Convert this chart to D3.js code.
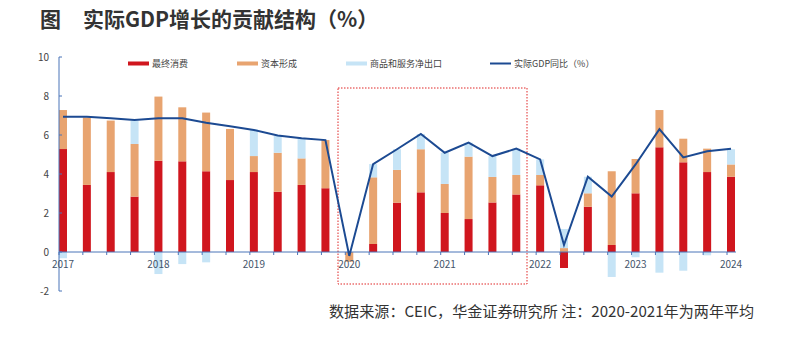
<html>
<head>
	<meta charset="utf-8">
	<title>实际GDP增长的贡献结构</title>
	<style>
		body {
			margin:0;
			padding:0;
			background:#fff;
			font-family:"Noto Sans CJK SC", "Noto Sans", sans-serif;
		}
		svg { display:block; }
	</style>
</head>
<body>
	<svg width="798" height="347"></svg>

	<script src="https://d3js.org/d3.v7.min.js"></script>
	<script>
		// quarterly, 2017Q1 - 2024Q1
		var quarters = [
			"2017Q1","2017Q2","2017Q3","2017Q4",
			"2018Q1","2018Q2","2018Q3","2018Q4",
			"2019Q1","2019Q2","2019Q3","2019Q4",
			"2020Q1","2020Q2","2020Q3","2020Q4",
			"2021Q1","2021Q2","2021Q3","2021Q4",
			"2022Q1","2022Q2","2022Q3","2022Q4",
			"2023Q1","2023Q2","2023Q3","2023Q4",
			"2024Q1"
		];
		var consumption = [5.28,3.44,4.10,2.84, 4.68,4.65,4.14,3.69, 4.10,3.09,3.44,3.27, 0,0.41,2.53,3.06, 2.00,1.69,2.54,2.95, 3.42,-0.82,2.32,0.36, 3.01,5.37,4.60,4.10, 3.86];
		var capital = [2.00,3.46,2.64,2.70, 3.29,2.77,3.01,2.62, 0.82,2.00,1.36,2.47, -0.50,3.42,1.68,2.21, 1.49,3.20,1.31,1.00, 0.53,0.20,0.69,3.78, 1.76,1.91,1.21,1.20, 0.63];
		var netExports = [-0.32,0,0,1.20, -1.13,-0.62,-0.53,0, 1.37,0.86,1.03,0, 0,0.68,1.06,0.78, 1.60,0.72,1.07,1.35, 0.80,0.98,0.85,-1.28, -0.27,-1.06,-0.96,-0.17, 0.78];
		var gdpYoY = [6.94,6.94,6.86,6.77, 6.86,6.86,6.63,6.45, 6.26,5.97,5.83,5.74, -0.20,4.51,5.27,6.05, 5.09,5.61,4.92,5.30, 4.75,0.36,3.86,2.84, 4.49,6.30,4.85,5.17, 5.30];
		var yTicks = [-2,0,2,4,6,8,10];

		var seriesNames = ["最终消费","资本形成","商品和服务净出口"];
		var colors = ["#d0161e","#e8a470","#c6e4f6"];
		var lineColor = "#1c4a92";

		var svg = d3.select("svg");

		// title
		svg.append("text").attr("x",40).attr("y",27)
			.style("font-size","21px").style("font-weight","bold").style("fill","#333")
			.text("图");
		svg.append("text").attr("x",83).attr("y",27)
			.style("font-size","21px").style("font-weight","bold").style("fill","#333")
			.text("实际GDP增长的贡献结构（%）");

		var x = d3.scalePoint().domain(quarters).range([63, 731]);
		var y = d3.scaleLinear().domain([-2, 10]).range([291, 57]);
		var barW = 8;

		var rows = quarters.map(function(q,i){
			return {q:q, a:consumption[i], b:capital[i], c:netExports[i]};
		});
		var stack = d3.stack().keys(["a","b","c"]).offset(d3.stackOffsetDiverging);
		var layers = stack(rows);

		// highlighted 2020-2021 window
		svg.append("rect")
			.attr("x",338).attr("y",88).attr("width",189).attr("height",196)
			.style("fill","none").style("stroke","#e02626").style("stroke-width",1)
			.style("stroke-dasharray","1.5,1.5");

		layers.forEach(function(layer, k){
			svg.append("g").selectAll("rect")
				.data(layer)
				.enter()
				.append("rect")
				.attr("x", function(d){ return x(d.data.q) - barW/2; })
				.attr("y", function(d){ return y(Math.max(d[0],d[1])); })
				.attr("width", barW)
				.attr("height", function(d){ return Math.abs(y(d[0]) - y(d[1])); })
				.style("fill", colors[k]);
		});

		// axes
		var axisColor = "#4a74b8";
		svg.append("line").attr("x1",59).attr("x2",59).attr("y1",y(10)).attr("y2",y(-2))
			.style("stroke",axisColor).style("stroke-width",1);
		svg.append("line").attr("x1",59).attr("x2",736).attr("y1",y(0)).attr("y2",y(0))
			.style("stroke",axisColor).style("stroke-width",1);

		svg.append("g").selectAll("line")
			.data(yTicks).enter().append("line")
			.attr("x1",59).attr("x2",62)
			.attr("y1",function(d){ return y(d); }).attr("y2",function(d){ return y(d); })
			.style("stroke",axisColor);
		svg.append("g").selectAll("text")
			.data(yTicks).enter().append("text")
			.attr("x",49).attr("y",function(d){ return y(d) + 3.5; })
			.attr("text-anchor","end")
			.style("font-size","10px").style("fill","#444")
			.text(function(d){ return d; });

		svg.append("g").selectAll("line")
			.data(quarters).enter().append("line")
			.attr("x1",function(d){ return x(d) - barW/2; })
			.attr("x2",function(d){ return x(d) - barW/2; })
			.attr("y1",y(0)).attr("y2",y(0) + 3)
			.style("stroke",axisColor);
		svg.append("g").selectAll("text")
			.data(quarters.filter(function(q){ return /Q1$/.test(q); }))
			.enter().append("text")
			.attr("x",function(d){ return x(d); })
			.attr("y",y(0) + 16)
			.attr("text-anchor","middle")
			.style("font-size","10px").style("fill","#44546a")
			.text(function(d){ return d.slice(0,4); });

		// GDP line
		var line = d3.line()
			.x(function(d,i){ return x(quarters[i]); })
			.y(function(d){ return y(d); });
		svg.append("path").datum(gdpYoY)
			.attr("d", line)
			.style("fill","none").style("stroke",lineColor).style("stroke-width",2);

		// legend
		var legendX = [128, 237, 346, 490];
		var legend = svg.append("g").style("font-size","9px").style("fill","#444");
		seriesNames.forEach(function(name, k){
			legend.append("rect").attr("x",legendX[k]).attr("y",61.5).attr("width",21).attr("height",4)
				.style("fill",colors[k]);
			legend.append("text").attr("x",legendX[k] + 24).attr("y",67).text(name);
		});
		legend.append("line").attr("x1",legendX[3]).attr("x2",legendX[3] + 21)
			.attr("y1",63.5).attr("y2",63.5)
			.style("stroke",lineColor).style("stroke-width",2);
		legend.append("text").attr("x",legendX[3] + 24).attr("y",67).text("实际GDP同比（%）");

		// source note
		svg.append("text").attr("x",329).attr("y",317)
			.style("font-size","15.1px").style("fill","#333")
			.text("数据来源：CEIC，华金证券研究所 注：2020-2021年为两年平均");
	</script>
</body>
</html>
